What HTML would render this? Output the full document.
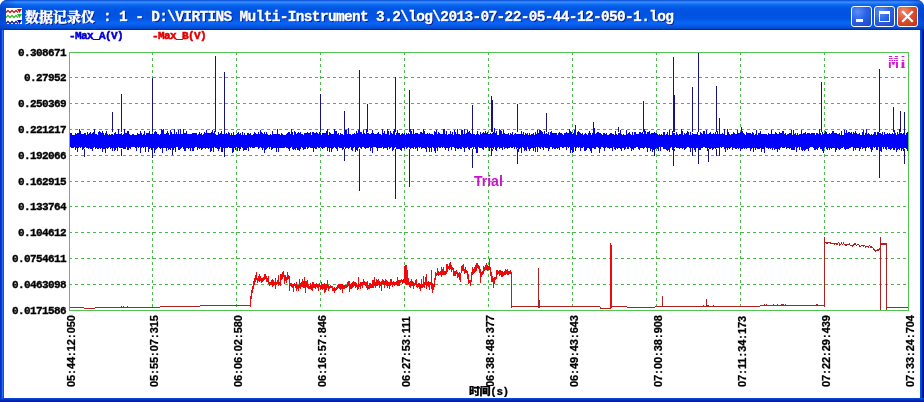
<!DOCTYPE html>
<html lang="zh"><head><meta charset="utf-8"><title>数据记录仪</title>
<style>
html,body{margin:0;padding:0;background:#fff;}
body{width:924px;height:402px;overflow:hidden;position:relative;font-family:"Liberation Mono","Noto Serif CJK SC",monospace;}
#win{position:absolute;left:0;top:0;width:924px;height:402px;box-sizing:border-box;border-radius:7px 7px 0 0;overflow:hidden;background:#0a50e0;}
#tb{position:absolute;left:0;top:0;width:924px;height:30px;
background:linear-gradient(to bottom,#0a48cc 0px,#1c6cec 1px,#3a8eff 2px,#2a82fa 3px,#1070f4 4px,#0560ea 6px,#0055e2 9px,#0053e0 15px,#0056e6 19px,#0962f4 22px,#0a64f6 24px,#0458e4 26px,#0450d4 28px,#0038b0 29px,#002c9c 30px);}
#tb:before{content:"";position:absolute;left:0;top:0;width:16px;height:30px;background:linear-gradient(to right,#0038c0 0%,rgba(0,56,192,0) 100%);opacity:.6}
#tb:after{content:"";position:absolute;right:0;top:0;width:16px;height:30px;background:linear-gradient(to left,#0038c0 0%,rgba(0,56,192,0) 100%);opacity:.6}
#bl{position:absolute;left:0;top:30px;width:4px;height:372px;background:linear-gradient(to right,#0030c8 0,#0030c8 1px,#0a40d8 1px,#0a40d8 2px,#2a6cf0 2px,#2a6cf0 3px,#0a54e0 3px,#0a54e0 4px);}
#br{position:absolute;right:0;top:30px;width:4px;height:372px;background:linear-gradient(to left,#00138c 0,#00138c 1px,#001ea0 1px,#001ea0 2px,#003bda 2px,#0855dd 4px);}
#bb{position:absolute;left:0;bottom:0;width:924px;height:4px;background:linear-gradient(to top,#001c98 0,#001c98 1px,#0028b0 1px,#0028b0 2px,#0034c0 2px,#0034c0 3px,#0a48d8 3px,#0a48d8 4px);}
#client{position:absolute;left:4px;top:30px;width:916px;height:368px;background:#fff;}
#title{position:absolute;left:26px;top:6px;height:18px;line-height:18px;color:#fff;font-weight:bold;font-size:14.5px;letter-spacing:-0.67px;white-space:pre;text-shadow:1px 1px 0 #0a1883;-webkit-text-stroke:0.3px #fff;}
#title .c{font-size:14px;letter-spacing:0;margin-left:-1px;position:relative;top:0.5px;font-family:"Noto Serif CJK SC",serif;font-weight:900}
.btn{position:absolute;top:6px;width:21px;height:21px;box-sizing:border-box;border:1px solid #fff;border-radius:3px;
background:radial-gradient(circle at 30% 25%,#5a8ef8 0%,#2a62e6 45%,#1c45c8 100%);}
.btn.close{background:radial-gradient(circle at 30% 25%,#f09070 0%,#dd5030 45%,#b83010 100%);}
.yl{position:absolute;left:0;width:66px;text-align:right;height:14px;line-height:14px;font-size:11px;letter-spacing:-0.6px;font-weight:bold;color:#000;white-space:pre;-webkit-text-stroke:0.35px #000;}
.xl{position:absolute;top:386.5px;height:12px;line-height:12px;width:80px;margin-left:-5px;font-family:"Liberation Sans",sans-serif;font-weight:bold;font-size:11px;letter-spacing:-0.116px;color:#000;white-space:pre;transform-origin:0 0;transform:rotate(-90deg);}
.xl{-webkit-text-stroke:0.25px #000}
.xl i{font-style:normal;padding:0 1.17px 0 1.17px;}
.lg{position:absolute;top:29px;height:14px;line-height:14px;font-size:11px;letter-spacing:-0.6px;font-weight:bold;white-space:pre;-webkit-text-stroke:0.5px currentColor;}
</style></head><body>
<div id="win">
<div id="tb"></div>
<div id="bl"></div><div id="br"></div><div id="bb"></div>
<div id="client"></div>
<svg width="16" height="16" viewBox="0 0 16 16" style="position:absolute;left:6px;top:8px">
<rect width="16" height="16" fill="#fff"/>
<path d="M0 4.6 L2 2.4 L4 4.6 L6 2.4 L8 4.6 L10 2.4 L12 4.6" stroke="#b81414" fill="none" stroke-width="1.35"/>
<path d="M11 1H16L13.5 5z" fill="#c81010"/>
<path d="M0 9.6 L2 7.4 L4 9.6 L6 7.4 L8 9.6 L10 7.4 L12 9.6" stroke="#28b828" fill="none" stroke-width="1.35"/>
<path d="M11 6H16L13.5 10z" fill="#18c018"/>
<path d="M0 15.6 L2 13.4 L4 15.6 L6 13.4 L8 15.6 L10 13.4 L12 15.6" stroke="#101088" fill="none" stroke-width="1.35"/>
<path d="M11 12H16L13.5 16z" fill="#0808a0"/>
</svg>
<div id="title"><span class="c">数据记录仪</span> : 1 - D:\VIRTINS Multi-Instrument 3.2\log\2013-07-22-05-44-12-050-1.log</div>
<div class="btn" style="left:851px"><div style="position:absolute;left:4px;top:12px;width:7px;height:3px;background:#fff"></div></div>
<div class="btn" style="left:874px"><div style="position:absolute;left:4px;top:4px;width:11px;height:11px;box-sizing:border-box;border:1px solid #fff;border-top-width:3px"></div></div>
<div class="btn close" style="left:897px"><svg width="19" height="19" viewBox="0 0 19 19" style="position:absolute;left:0;top:0"><path d="M5 5l9 9M14 5l-9 9" stroke="#fff" stroke-width="2.2" stroke-linecap="square"/></svg></div>
</div>
<svg width="924" height="402" viewBox="0 0 924 402" shape-rendering="crispEdges" style="position:absolute;left:0;top:0">
<path d="M152.5 52V310M236.5 52V310M320.5 52V310M404.5 52V310M488.5 52V310M572.5 52V310M656.5 52V310M740.5 52V310M824.5 52V310" stroke="#4cb84c" stroke-width="1" stroke-dasharray="3 3" fill="none"/>
<path d="M69 77.5H908M69 103.5H908M69 129.5H908M69 155.5H908M69 181.5H908M69 206.5H908M69 232.5H908M69 258.5H908M69 284.5H908" stroke="#4cb84c" stroke-width="1" stroke-dasharray="3 3" fill="none"/>
<path d="M69.5 134V147M70.5 133V147M71.5 133V148M72.5 135V148M73.5 135V148M74.5 135V147M75.5 133V150M76.5 134V148M77.5 133V152M78.5 133V148M79.5 129V147M80.5 131V148M81.5 134V147M82.5 134V150M83.5 134V149M84.5 133V148M85.5 133V147M86.5 135V148M87.5 132V148M88.5 134V149M89.5 133V148M90.5 132V149M91.5 134V149M92.5 133V151M93.5 132V148M94.5 129V147M95.5 134V149M96.5 134V148M97.5 135V149M98.5 132V149M99.5 131V148M100.5 132V149M101.5 133V148M102.5 131V152M103.5 133V149M104.5 135V149M105.5 133V153M106.5 131V148M107.5 134V149M108.5 135V148M109.5 134V147M110.5 135V149M111.5 134V148M112.5 134V151M113.5 135V148M114.5 133V151M115.5 132V150M116.5 134V148M117.5 134V151M118.5 129V147M119.5 134V148M120.5 134V148M121.5 133V148M122.5 135V148M123.5 134V149M124.5 129V149M125.5 133V149M126.5 133V147M127.5 131V150M128.5 131V150M129.5 134V148M130.5 135V149M131.5 135V147M132.5 134V147M133.5 134V147M134.5 135V147M135.5 135V148M136.5 135V151M137.5 133V147M138.5 134V148M139.5 134V147M140.5 131V153M141.5 133V148M142.5 135V147M143.5 134V148M144.5 131V147M145.5 135V152M146.5 133V147M147.5 133V147M148.5 133V152M149.5 131V149M150.5 134V148M151.5 134V150M152.5 133V150M153.5 134V148M154.5 132V153M155.5 131V150M156.5 132V149M157.5 134V148M158.5 134V147M159.5 135V148M160.5 134V149M161.5 129V148M162.5 130V153M163.5 129V148M164.5 134V148M165.5 134V148M166.5 133V151M167.5 131V148M168.5 133V150M169.5 135V149M170.5 130V150M171.5 132V148M172.5 134V150M173.5 134V150M174.5 129V148M175.5 134V152M176.5 132V147M177.5 134V147M178.5 130V150M179.5 134V150M180.5 129V149M181.5 134V148M182.5 134V147M183.5 129V149M184.5 133V151M185.5 133V151M186.5 131V148M187.5 134V148M188.5 134V149M189.5 134V148M190.5 134V151M191.5 134V148M192.5 133V151M193.5 133V151M194.5 133V148M195.5 133V147M196.5 133V147M197.5 135V150M198.5 134V148M199.5 132V149M200.5 134V148M201.5 133V150M202.5 135V149M203.5 134V148M204.5 132V148M205.5 133V149M206.5 130V148M207.5 133V148M208.5 133V149M209.5 133V148M210.5 133V152M211.5 132V151M212.5 130V148M213.5 133V152M214.5 131V147M215.5 134V148M216.5 135V148M217.5 135V149M218.5 132V151M219.5 134V149M220.5 133V147M221.5 131V152M222.5 134V152M223.5 134V148M224.5 128V150M225.5 134V148M226.5 133V148M227.5 134V148M228.5 132V147M229.5 133V148M230.5 135V148M231.5 133V148M232.5 135V153M233.5 132V152M234.5 135V148M235.5 135V150M236.5 134V147M237.5 133V151M238.5 132V148M239.5 134V151M240.5 133V149M241.5 135V147M242.5 132V148M243.5 135V151M244.5 133V150M245.5 135V150M246.5 135V150M247.5 133V148M248.5 133V151M249.5 134V147M250.5 133V148M251.5 135V147M252.5 135V148M253.5 134V148M254.5 132V148M255.5 133V147M256.5 134V147M257.5 134V147M258.5 132V149M259.5 134V148M260.5 130V147M261.5 132V148M262.5 133V150M263.5 134V148M264.5 132V153M265.5 134V150M266.5 132V149M267.5 134V148M268.5 135V147M269.5 135V149M270.5 134V147M271.5 135V150M272.5 131V149M273.5 134V148M274.5 134V148M275.5 134V148M276.5 134V152M277.5 129V148M278.5 134V152M279.5 134V148M280.5 135V148M281.5 133V148M282.5 134V148M283.5 135V148M284.5 135V148M285.5 135V147M286.5 134V148M287.5 133V148M288.5 132V149M289.5 132V151M290.5 134V148M291.5 129V147M292.5 132V149M293.5 135V150M294.5 131V149M295.5 132V150M296.5 134V148M297.5 133V150M298.5 132V150M299.5 133V151M300.5 132V149M301.5 134V147M302.5 134V148M303.5 135V150M304.5 133V149M305.5 133V149M306.5 133V147M307.5 132V149M308.5 133V148M309.5 133V147M310.5 132V148M311.5 135V148M312.5 132V148M313.5 132V152M314.5 133V148M315.5 133V149M316.5 132V149M317.5 133V147M318.5 134V148M319.5 132V148M320.5 133V147M321.5 135V148M322.5 133V149M323.5 133V148M324.5 133V148M325.5 133V147M326.5 131V147M327.5 129V151M328.5 135V148M329.5 132V152M330.5 133V148M331.5 134V152M332.5 134V149M333.5 134V148M334.5 129V147M335.5 131V148M336.5 131V149M337.5 134V151M338.5 133V147M339.5 135V148M340.5 133V148M341.5 134V148M342.5 134V150M343.5 135V149M344.5 131V147M345.5 130V149M346.5 130V148M347.5 134V148M348.5 128V149M349.5 134V148M350.5 134V147M351.5 135V150M352.5 134V151M353.5 134V148M354.5 133V147M355.5 134V152M356.5 131V150M357.5 133V151M358.5 130V148M359.5 132V147M360.5 132V148M361.5 132V149M362.5 134V147M363.5 130V147M364.5 133V148M365.5 134V149M366.5 129V148M367.5 133V148M368.5 133V148M369.5 134V147M370.5 134V151M371.5 133V148M372.5 130V153M373.5 133V147M374.5 134V147M375.5 134V147M376.5 134V148M377.5 133V151M378.5 132V148M379.5 134V148M380.5 134V148M381.5 135V148M382.5 129V147M383.5 133V149M384.5 131V148M385.5 134V148M386.5 134V148M387.5 129V150M388.5 131V147M389.5 135V149M390.5 131V148M391.5 133V147M392.5 134V151M393.5 131V150M394.5 129V148M395.5 135V147M396.5 133V149M397.5 130V149M398.5 133V149M399.5 133V149M400.5 135V150M401.5 134V151M402.5 133V148M403.5 134V148M404.5 133V149M405.5 135V147M406.5 133V149M407.5 134V148M408.5 133V147M409.5 134V148M410.5 129V149M411.5 131V148M412.5 134V148M413.5 129V149M414.5 134V147M415.5 133V149M416.5 133V148M417.5 133V151M418.5 134V147M419.5 134V148M420.5 132V147M421.5 132V149M422.5 133V148M423.5 129V148M424.5 131V148M425.5 134V149M426.5 134V152M427.5 133V147M428.5 134V148M429.5 133V152M430.5 134V148M431.5 134V152M432.5 134V147M433.5 135V148M434.5 131V151M435.5 132V153M436.5 130V148M437.5 134V151M438.5 132V147M439.5 133V148M440.5 134V148M441.5 134V147M442.5 134V148M443.5 129V147M444.5 129V148M445.5 134V150M446.5 131V148M447.5 135V148M448.5 134V151M449.5 134V148M450.5 131V147M451.5 134V150M452.5 132V147M453.5 135V147M454.5 130V148M455.5 132V151M456.5 134V148M457.5 129V149M458.5 134V149M459.5 134V148M460.5 135V149M461.5 130V149M462.5 130V147M463.5 134V148M464.5 129V152M465.5 134V148M466.5 133V148M467.5 130V147M468.5 132V149M469.5 131V150M470.5 133V148M471.5 134V148M472.5 132V147M473.5 134V149M474.5 134V147M475.5 135V149M476.5 134V153M477.5 131V153M478.5 134V147M479.5 135V148M480.5 132V148M481.5 134V148M482.5 133V149M483.5 132V150M484.5 133V147M485.5 131V148M486.5 133V148M487.5 132V147M488.5 134V148M489.5 134V151M490.5 133V148M491.5 134V153M492.5 133V148M493.5 132V149M494.5 128V147M495.5 133V150M496.5 131V151M497.5 135V148M498.5 135V147M499.5 129V149M500.5 130V148M501.5 131V148M502.5 134V150M503.5 130V147M504.5 133V149M505.5 134V148M506.5 134V148M507.5 134V149M508.5 133V148M509.5 135V148M510.5 133V147M511.5 134V148M512.5 132V148M513.5 135V147M514.5 134V149M515.5 133V147M516.5 134V149M517.5 134V148M518.5 134V152M519.5 134V149M520.5 134V148M521.5 131V153M522.5 134V147M523.5 132V148M524.5 135V151M525.5 133V150M526.5 134V151M527.5 133V147M528.5 135V149M529.5 133V151M530.5 135V149M531.5 134V148M532.5 134V148M533.5 133V151M534.5 135V148M535.5 132V152M536.5 134V147M537.5 130V152M538.5 133V147M539.5 130V148M540.5 130V149M541.5 131V147M542.5 132V148M543.5 134V150M544.5 131V147M545.5 134V148M546.5 133V148M547.5 134V148M548.5 132V151M549.5 135V149M550.5 132V147M551.5 131V147M552.5 133V149M553.5 133V148M554.5 133V149M555.5 133V149M556.5 133V148M557.5 135V149M558.5 133V148M559.5 132V150M560.5 133V147M561.5 133V147M562.5 134V148M563.5 135V148M564.5 133V147M565.5 133V147M566.5 132V150M567.5 133V147M568.5 133V148M569.5 129V147M570.5 131V153M571.5 132V150M572.5 134V153M573.5 133V152M574.5 130V147M575.5 132V151M576.5 135V148M577.5 132V147M578.5 131V148M579.5 132V147M580.5 133V151M581.5 134V148M582.5 133V148M583.5 135V147M584.5 134V151M585.5 133V151M586.5 134V150M587.5 135V148M588.5 133V148M589.5 131V149M590.5 133V151M591.5 135V153M592.5 133V148M593.5 132V148M594.5 128V149M595.5 134V149M596.5 133V147M597.5 132V147M598.5 132V148M599.5 133V153M600.5 133V149M601.5 134V147M602.5 135V147M603.5 133V148M604.5 133V151M605.5 134V148M606.5 133V147M607.5 135V148M608.5 135V148M609.5 134V149M610.5 133V148M611.5 133V148M612.5 134V151M613.5 134V147M614.5 135V149M615.5 131V150M616.5 134V148M617.5 135V149M618.5 133V148M619.5 133V148M620.5 130V149M621.5 134V151M622.5 135V148M623.5 134V148M624.5 135V150M625.5 135V149M626.5 130V147M627.5 134V149M628.5 133V149M629.5 132V147M630.5 134V148M631.5 135V151M632.5 132V149M633.5 135V150M634.5 132V148M635.5 132V148M636.5 134V147M637.5 134V147M638.5 134V149M639.5 132V150M640.5 132V148M641.5 133V148M642.5 132V148M643.5 134V149M644.5 129V148M645.5 131V147M646.5 134V148M647.5 132V152M648.5 132V148M649.5 131V148M650.5 134V151M651.5 133V149M652.5 133V152M653.5 133V150M654.5 132V150M655.5 133V149M656.5 133V148M657.5 134V149M658.5 135V151M659.5 134V147M660.5 135V151M661.5 134V147M662.5 135V147M663.5 132V149M664.5 132V149M665.5 135V149M666.5 134V150M667.5 132V151M668.5 135V150M669.5 130V152M670.5 135V148M671.5 135V147M672.5 131V150M673.5 133V150M674.5 133V148M675.5 135V147M676.5 132V148M677.5 134V148M678.5 135V148M679.5 134V149M680.5 134V148M681.5 129V148M682.5 131V149M683.5 135V148M684.5 133V150M685.5 134V149M686.5 133V148M687.5 131V147M688.5 132V147M689.5 135V148M690.5 132V152M691.5 135V148M692.5 133V150M693.5 134V148M694.5 134V150M695.5 134V152M696.5 134V148M697.5 132V148M698.5 135V149M699.5 135V150M700.5 132V150M701.5 133V148M702.5 134V148M703.5 131V147M704.5 131V147M705.5 134V148M706.5 130V148M707.5 134V151M708.5 134V148M709.5 133V149M710.5 132V149M711.5 134V148M712.5 134V150M713.5 133V149M714.5 134V148M715.5 132V149M716.5 134V148M717.5 131V148M718.5 134V148M719.5 132V150M720.5 134V147M721.5 134V148M722.5 133V147M723.5 134V147M724.5 129V149M725.5 135V152M726.5 135V148M727.5 129V150M728.5 132V148M729.5 134V149M730.5 135V148M731.5 134V147M732.5 134V150M733.5 132V148M734.5 133V148M735.5 134V149M736.5 134V149M737.5 130V148M738.5 133V149M739.5 133V148M740.5 132V151M741.5 132V149M742.5 131V149M743.5 133V148M744.5 134V149M745.5 135V148M746.5 132V149M747.5 133V148M748.5 133V148M749.5 133V148M750.5 133V151M751.5 134V149M752.5 132V148M753.5 133V152M754.5 135V148M755.5 134V150M756.5 130V148M757.5 135V149M758.5 133V149M759.5 133V149M760.5 131V148M761.5 134V152M762.5 134V149M763.5 134V149M764.5 134V153M765.5 134V147M766.5 134V148M767.5 135V148M768.5 133V149M769.5 134V148M770.5 134V149M771.5 130V148M772.5 134V150M773.5 134V148M774.5 134V150M775.5 132V149M776.5 133V149M777.5 134V152M778.5 134V149M779.5 132V150M780.5 133V148M781.5 133V147M782.5 131V148M783.5 131V148M784.5 134V148M785.5 133V147M786.5 135V149M787.5 134V148M788.5 134V148M789.5 133V149M790.5 133V148M791.5 130V150M792.5 135V150M793.5 130V150M794.5 134V150M795.5 133V147M796.5 135V152M797.5 133V148M798.5 135V147M799.5 134V150M800.5 134V147M801.5 130V150M802.5 134V151M803.5 133V150M804.5 133V151M805.5 132V150M806.5 134V149M807.5 133V149M808.5 133V151M809.5 133V148M810.5 134V147M811.5 133V147M812.5 133V147M813.5 133V148M814.5 133V150M815.5 135V150M816.5 133V149M817.5 133V150M818.5 134V148M819.5 129V147M820.5 133V149M821.5 135V149M822.5 132V151M823.5 134V153M824.5 133V148M825.5 131V147M826.5 132V149M827.5 134V150M828.5 134V148M829.5 133V150M830.5 134V148M831.5 133V149M832.5 131V148M833.5 131V148M834.5 133V148M835.5 133V152M836.5 133V150M837.5 134V148M838.5 134V149M839.5 133V150M840.5 135V149M841.5 131V148M842.5 135V148M843.5 135V147M844.5 130V149M845.5 133V150M846.5 130V149M847.5 133V149M848.5 132V149M849.5 132V148M850.5 133V148M851.5 132V147M852.5 134V147M853.5 132V151M854.5 133V148M855.5 131V150M856.5 133V148M857.5 134V148M858.5 134V148M859.5 133V151M860.5 135V149M861.5 135V147M862.5 132V149M863.5 130V148M864.5 135V148M865.5 133V151M866.5 129V148M867.5 134V147M868.5 133V148M869.5 134V147M870.5 135V149M871.5 134V152M872.5 135V150M873.5 134V147M874.5 132V148M875.5 132V147M876.5 135V150M877.5 132V150M878.5 132V147M879.5 133V149M880.5 133V151M881.5 134V152M882.5 132V147M883.5 135V149M884.5 132V147M885.5 134V149M886.5 134V150M887.5 133V147M888.5 134V149M889.5 133V149M890.5 134V150M891.5 134V149M892.5 133V148M893.5 134V150M894.5 130V150M895.5 133V148M896.5 135V152M897.5 132V150M898.5 134V149M899.5 129V150M900.5 133V148M901.5 133V151M902.5 134V149M903.5 133V151M904.5 132V148M905.5 135V148M906.5 133V149M907.5 132V151" stroke="#0000ff" stroke-width="1" fill="none"/>
<path d="M84.5 149V157M112.5 112V132M121.5 94V132M121.5 149V156M152.5 78V132M152.5 149V158M172.5 149V155M215.5 56V132M224.5 72V132M224.5 149V157M320.5 94V132M344.5 111V132M344.5 149V161M359.5 70V132M359.5 149V191M367.5 104V132M395.5 77V132M395.5 149V199M409.5 90V132M409.5 149V187M472.5 105V132M472.5 149V168M491.5 96V132M491.5 149V156M492.5 100V132M492.5 149V151M517.5 104V132M517.5 149V164M546.5 113V132M575.5 125V132M593.5 122V132M618.5 127V132M643.5 101V132M654.5 149V156M673.5 57V132M673.5 149V166M674.5 95V132M674.5 149V151M692.5 87V132M692.5 149V156M698.5 53V132M698.5 149V164M708.5 149V162M716.5 86V132M716.5 149V156M719.5 118V132M719.5 149V156M741.5 127V132M821.5 82V132M879.5 69V132M879.5 149V178M893.5 107V132M900.5 111V132M904.5 112V132M904.5 149V164" stroke="#14147c" stroke-width="1" fill="none"/>
<path d="M69.5 307V308M70.5 307V308M71.5 307V308M72.5 307V308M73.5 307V308M74.5 307V308M75.5 307V308M76.5 307V308M77.5 307V308M78.5 307V308M79.5 307V308M80.5 307V308M81.5 307V308M82.5 307V308M83.5 307V308M84.5 308V309M85.5 308V309M86.5 308V309M87.5 308V309M88.5 308V309M89.5 308V309M90.5 308V309M91.5 308V309M92.5 308V309M93.5 308V309M94.5 308V309M95.5 307V308M96.5 307V308M97.5 307V308M98.5 307V308M99.5 307V308M100.5 307V308M101.5 307V308M102.5 307V308M103.5 307V308M104.5 307V308M105.5 307V308M106.5 307V308M107.5 307V308M108.5 307V308M109.5 307V308M110.5 307V308M111.5 307V308M112.5 307V308M113.5 307V308M114.5 307V308M115.5 307V308M116.5 307V308M117.5 307V308M118.5 307V308M119.5 307V308M120.5 307V308M121.5 306V308M122.5 307V308M123.5 306V308M124.5 307V308M125.5 307V308M126.5 307V308M127.5 306V308M128.5 307V308M129.5 307V308M130.5 307V308M131.5 307V308M132.5 307V308M133.5 307V308M134.5 307V308M135.5 307V308M136.5 307V308M137.5 307V308M138.5 307V308M139.5 307V308M140.5 307V308M141.5 307V308M142.5 307V308M143.5 307V308M144.5 307V308M145.5 307V308M146.5 307V308M147.5 307V308M148.5 307V308M149.5 307V308M150.5 307V308M151.5 307V308M152.5 307V308M153.5 307V308M154.5 307V308M155.5 307V308M156.5 307V308M157.5 307V308M158.5 307V308M159.5 307V308M160.5 306V307M161.5 306V307M162.5 306V307M163.5 306V307M164.5 306V307M165.5 306V307M166.5 306V307M167.5 306V307M168.5 306V307M169.5 306V307M170.5 306V307M171.5 306V307M172.5 306V307M173.5 306V307M174.5 306V307M175.5 306V307M176.5 306V307M177.5 306V307M178.5 306V307M179.5 306V307M180.5 306V307M181.5 306V307M182.5 306V307M183.5 306V307M184.5 306V307M185.5 306V307M186.5 306V307M187.5 306V307M188.5 306V307M189.5 306V307M190.5 306V307M191.5 306V307M192.5 306V307M193.5 306V307M194.5 306V307M195.5 306V307M196.5 306V307M197.5 306V307M198.5 306V307M199.5 306V307M200.5 305V306M201.5 305V306M202.5 305V306M203.5 305V306M204.5 305V306M205.5 305V306M206.5 305V306M207.5 305V306M208.5 305V306M209.5 305V306M210.5 305V306M211.5 305V306M212.5 305V306M213.5 305V306M214.5 305V306M215.5 305V306M216.5 305V306M217.5 305V306M218.5 305V306M219.5 305V306M220.5 305V306M221.5 305V306M222.5 305V306M223.5 305V306M224.5 305V306M225.5 305V306M226.5 305V306M227.5 305V306M228.5 305V306M229.5 305V306M230.5 305V306M231.5 305V306M232.5 305V306M233.5 305V306M234.5 305V306M235.5 305V306M236.5 305V306M237.5 305V306M238.5 305V306M239.5 305V306M240.5 305V306M241.5 305V306M242.5 305V306M243.5 305V306M244.5 305V306M245.5 305V306M246.5 305V306M247.5 305V306M248.5 305V306M249.5 305V306M512.5 306V307M513.5 306V307M514.5 306V307M515.5 306V307M516.5 306V307M517.5 306V307M518.5 306V307M519.5 306V307M520.5 306V307M521.5 306V307M522.5 306V307M523.5 306V307M524.5 306V307M525.5 306V307M526.5 306V307M527.5 306V307M528.5 306V307M529.5 306V307M530.5 306V307M531.5 306V307M532.5 306V307M533.5 306V307M534.5 306V307M535.5 306V307M536.5 306V307M537.5 306V307M538.5 268V308M539.5 300V308M540.5 306V307M541.5 306V307M542.5 306V307M543.5 306V307M544.5 306V307M545.5 306V307M546.5 306V307M547.5 306V307M548.5 306V307M549.5 306V307M550.5 306V307M551.5 306V307M552.5 306V307M553.5 306V307M554.5 306V307M555.5 306V307M556.5 306V307M557.5 306V307M558.5 306V307M559.5 306V307M560.5 306V307M561.5 306V307M562.5 306V307M563.5 306V307M564.5 306V307M565.5 306V307M566.5 306V307M567.5 306V307M568.5 306V307M569.5 306V307M570.5 306V307M571.5 306V307M572.5 306V307M573.5 306V307M574.5 306V307M575.5 306V307M576.5 306V307M577.5 306V307M578.5 306V307M579.5 306V307M580.5 306V307M581.5 306V307M582.5 306V307M583.5 306V307M584.5 306V307M585.5 306V307M586.5 306V307M587.5 306V307M588.5 306V307M589.5 306V307M590.5 306V307M591.5 306V307M592.5 306V307M593.5 306V307M594.5 306V307M595.5 306V307M596.5 306V307M597.5 306V307M598.5 306V307M599.5 306V307M600.5 307V309M601.5 308V309M602.5 308V309M603.5 308V309M604.5 308V309M605.5 308V309M606.5 308V309M607.5 308V309M608.5 308V309M609.5 308V309M612.5 306V307M613.5 306V307M614.5 306V307M615.5 306V307M616.5 306V307M617.5 306V307M618.5 306V307M619.5 306V307M620.5 306V307M621.5 306V307M622.5 306V307M623.5 306V307M624.5 306V307M625.5 306V307M626.5 306V307M627.5 307V308M628.5 307V308M629.5 307V308M630.5 307V308M631.5 307V308M632.5 307V308M633.5 307V308M634.5 307V308M635.5 307V308M636.5 307V308M637.5 307V308M638.5 307V308M639.5 307V308M640.5 307V308M641.5 307V308M642.5 307V308M643.5 307V308M644.5 307V308M645.5 307V308M646.5 307V308M647.5 307V308M648.5 307V308M649.5 307V308M650.5 307V308M651.5 307V308M652.5 307V308M653.5 307V308M654.5 307V308M655.5 306V307M656.5 306V307M657.5 306V307M658.5 306V307M659.5 306V307M660.5 306V307M661.5 306V307M662.5 296V307M663.5 306V307M664.5 306V307M665.5 306V307M666.5 306V307M667.5 306V307M668.5 306V307M669.5 306V307M670.5 306V307M671.5 306V307M672.5 306V307M673.5 306V307M674.5 306V307M675.5 306V307M676.5 306V307M677.5 306V307M678.5 306V307M679.5 306V307M680.5 306V307M681.5 306V307M682.5 306V307M683.5 306V307M684.5 306V307M685.5 306V307M686.5 306V307M687.5 306V307M688.5 306V307M689.5 306V307M690.5 306V307M691.5 306V307M692.5 306V307M693.5 306V307M694.5 306V307M695.5 306V307M696.5 306V307M697.5 306V307M698.5 306V307M699.5 306V307M700.5 306V307M701.5 306V307M702.5 306V307M703.5 305V307M704.5 306V307M705.5 306V307M706.5 299V307M707.5 305V307M708.5 305V307M709.5 306V307M710.5 306V307M711.5 306V307M712.5 306V307M713.5 305V307M714.5 306V307M715.5 306V307M716.5 306V307M717.5 306V307M718.5 306V307M719.5 306V307M720.5 306V307M721.5 306V307M722.5 306V307M723.5 306V307M724.5 306V307M725.5 306V307M726.5 306V307M727.5 306V307M728.5 306V307M729.5 306V307M730.5 306V307M731.5 306V307M732.5 306V307M733.5 306V307M734.5 306V307M735.5 306V307M736.5 306V307M737.5 306V307M738.5 306V307M739.5 306V307M740.5 306V307M741.5 306V307M742.5 306V307M743.5 306V307M744.5 306V307M745.5 306V307M746.5 306V307M747.5 306V307M748.5 306V307M749.5 306V307M750.5 306V307M751.5 306V307M752.5 306V307M753.5 306V307M754.5 306V307M755.5 306V307M756.5 306V307M757.5 306V307M758.5 306V307M759.5 306V307M760.5 305V306M761.5 305V306M762.5 305V306M763.5 305V306M764.5 304V306M765.5 305V306M766.5 304V306M767.5 305V306M768.5 305V306M769.5 305V306M770.5 305V306M771.5 305V306M772.5 305V306M773.5 304V306M774.5 305V306M775.5 305V306M776.5 305V306M777.5 304V306M778.5 305V306M779.5 305V306M780.5 305V306M781.5 304V306M782.5 304V306M783.5 304V306M784.5 305V306M785.5 304V306M786.5 305V306M787.5 305V306M788.5 305V306M789.5 305V306M790.5 305V306M791.5 305V306M792.5 305V306M793.5 305V306M794.5 305V306M795.5 305V306M796.5 305V306M797.5 305V306M798.5 305V306M799.5 305V306M800.5 305V306M801.5 305V306M802.5 305V306M803.5 305V306M804.5 305V306M805.5 305V306M806.5 305V306M807.5 305V306M808.5 305V306M809.5 305V306M810.5 305V306M811.5 305V306M812.5 305V306M813.5 305V306M814.5 305V306M815.5 305V306M816.5 304V306M817.5 304V306M818.5 305V306M819.5 305V306M820.5 305V306M821.5 305V306M822.5 305V306M823.5 305V306M824.5 237V307M825.5 242V243M826.5 242V244M827.5 242V244M828.5 242V243M829.5 242V243M830.5 242V244M831.5 243V244M832.5 243V244M833.5 243V244M834.5 243V245M835.5 243V244M836.5 243V245M837.5 243V245M838.5 242V243M839.5 243V246M840.5 244V245M841.5 242V244M842.5 244V245M843.5 242V244M844.5 244V245M845.5 244V246M846.5 244V246M847.5 244V245M848.5 244V245M849.5 243V245M850.5 245V246M851.5 245V246M852.5 245V247M853.5 244V246M854.5 243V245M855.5 243V245M856.5 245V246M857.5 244V245M858.5 244V245M859.5 245V247M860.5 246V247M861.5 245V246M862.5 245V246M863.5 245V247M864.5 245V246M865.5 246V248M866.5 246V247M867.5 246V247M868.5 246V248M869.5 245V246M870.5 246V248M871.5 246V248M872.5 247V248M873.5 248V250M874.5 249V251M875.5 250V252M876.5 250V251M877.5 249V251M878.5 249V251M879.5 248V250M880.5 237V310M881.5 243V245M882.5 243V245M883.5 243V245M884.5 243V245M885.5 243V245M886.5 243V310M887.5 307V308M888.5 307V308M889.5 307V308M890.5 307V308M891.5 307V308M892.5 307V308M893.5 307V308M894.5 307V308M895.5 307V308M896.5 307V308M897.5 307V308M898.5 307V308M899.5 307V308M900.5 307V308M901.5 307V308M902.5 307V308M903.5 307V308M904.5 307V308M905.5 307V308M906.5 307V308M907.5 307V308M908.5 307V308" stroke="#b02222" stroke-width="1" fill="none"/>
<path d="M250.5 296V307M251.5 290V299M252.5 286V293M253.5 281V289M254.5 278V285M255.5 275V282M256.5 272V280M257.5 278V283M258.5 276V281M259.5 274V282M260.5 276V281M261.5 278V283M262.5 278V282M263.5 277V281M264.5 274V280M265.5 274V279M266.5 276V282M267.5 278V282M268.5 276V284M269.5 282V286M270.5 282V285M271.5 280V285M272.5 279V287M273.5 280V286M274.5 282V285M275.5 278V289M276.5 282V285M277.5 280V284M278.5 275V286M279.5 282V285M280.5 274V286M281.5 274V280M282.5 272V279M283.5 271V277M284.5 275V284M285.5 275V281M286.5 277V283M287.5 272V280M288.5 275V279M289.5 276V291M290.5 283V286M291.5 283V287M292.5 284V288M293.5 284V292M294.5 283V286M295.5 284V288M296.5 282V291M297.5 285V289M298.5 285V291M299.5 279V288M300.5 283V289M301.5 282V287M302.5 279V287M303.5 281V288M304.5 277V288M305.5 281V293M306.5 281V287M307.5 280V288M308.5 284V289M309.5 286V289M310.5 283V289M311.5 285V290M312.5 282V291M313.5 282V288M314.5 284V288M315.5 284V289M316.5 283V287M317.5 284V288M318.5 284V291M319.5 283V287M320.5 285V290M321.5 282V289M322.5 284V290M323.5 284V289M324.5 283V293M325.5 284V292M326.5 284V290M327.5 280V288M328.5 285V291M329.5 286V289M330.5 285V288M331.5 286V288M332.5 286V291M333.5 288V291M334.5 287V293M335.5 288V291M336.5 287V290M337.5 285V289M338.5 284V288M339.5 284V289M340.5 284V290M341.5 284V289M342.5 284V293M343.5 285V289M344.5 285V289M345.5 285V288M346.5 285V288M347.5 282V287M348.5 281V286M349.5 281V292M350.5 284V289M351.5 283V289M352.5 282V288M353.5 281V287M354.5 282V286M355.5 282V288M356.5 283V287M357.5 285V290M358.5 277V289M359.5 284V287M360.5 282V289M361.5 282V286M362.5 282V288M363.5 279V285M364.5 281V285M365.5 282V286M366.5 282V288M367.5 281V290M368.5 285V289M369.5 283V289M370.5 283V288M371.5 284V288M372.5 280V288M373.5 280V288M374.5 277V286M375.5 282V288M376.5 279V286M377.5 280V286M378.5 279V285M379.5 281V288M380.5 282V286M381.5 281V291M382.5 279V284M383.5 280V285M384.5 281V288M385.5 279V285M386.5 280V286M387.5 281V288M388.5 282V286M389.5 282V289M390.5 279V286M391.5 279V285M392.5 282V287M393.5 281V285M394.5 282V286M395.5 282V285M396.5 281V285M397.5 277V286M398.5 280V286M399.5 280V286M400.5 280V283M401.5 279V282M402.5 280V284M403.5 279V283M404.5 266V283M405.5 265V284M406.5 265V285M407.5 270V285M408.5 278V285M409.5 282V287M410.5 281V288M411.5 279V286M412.5 281V286M413.5 282V289M414.5 283V286M415.5 280V285M416.5 279V287M417.5 284V288M418.5 283V287M419.5 283V289M420.5 284V291M421.5 279V288M422.5 284V288M423.5 276V287M424.5 282V288M425.5 277V285M426.5 274V289M427.5 282V286M428.5 281V287M429.5 282V290M430.5 282V285M431.5 270V289M432.5 283V293M433.5 284V290M434.5 278V287M435.5 272V280M436.5 273V276M437.5 268V275M438.5 271V276M439.5 272V275M440.5 271V275M441.5 267V277M442.5 269V275M443.5 267V275M444.5 271V275M445.5 271V275M446.5 264V274M447.5 264V272M448.5 266V269M449.5 263V270M450.5 262V269M451.5 265V272M452.5 267V270M453.5 268V276M454.5 271V276M455.5 271V276M456.5 270V274M457.5 272V278M458.5 273V277M459.5 272V280M460.5 273V282M461.5 266V273M462.5 265V271M463.5 264V271M464.5 269V274M465.5 267V273M466.5 270V273M467.5 271V279M468.5 274V284M469.5 280V283M470.5 280V286M471.5 272V282M472.5 267V275M473.5 269V274M474.5 267V273M475.5 265V272M476.5 263V271M477.5 263V268M478.5 265V269M479.5 266V273M480.5 269V283M481.5 272V277M482.5 271V275M483.5 266V274M484.5 267V271M485.5 265V270M486.5 263V270M487.5 265V271M488.5 266V270M489.5 259V270M490.5 267V276M491.5 272V282M492.5 276V282M493.5 278V288M494.5 277V284M495.5 277V280M496.5 270V279M497.5 270V275M498.5 271V274M499.5 270V276M500.5 270V275M501.5 271V277M502.5 271V277M503.5 272V276M504.5 271V275M505.5 269V275M506.5 270V274M507.5 269V275M508.5 271V275M509.5 271V274M510.5 270V274M511.5 272V308M610.5 243V309M611.5 245V308" stroke="#ee0a0a" stroke-width="1" fill="none"/>
<path d="M69.5 52.5H908.5V310.5H69.5Z" stroke="#52c452" stroke-width="1" fill="none"/>
</svg>
<div class="lg" style="left:69px;color:#0000d8">-Max_A(V)</div>
<div class="lg" style="left:152px;color:#e00000">-Max_B(V)</div>
<div class="yl" style="top:46px">0.308671</div><div class="yl" style="top:71px">0.27952</div><div class="yl" style="top:97px">0.250369</div><div class="yl" style="top:123px">0.221217</div><div class="yl" style="top:149px">0.192066</div><div class="yl" style="top:175px">0.162915</div><div class="yl" style="top:200px">0.133764</div><div class="yl" style="top:226px">0.104612</div><div class="yl" style="top:252px">0.0754611</div><div class="yl" style="top:278px">0.0463098</div><div class="yl" style="top:304px">0.0171586</div>
<div class="xl" style="left:70px">05<i>:</i>44<i>:</i>12<i>:</i>050</div><div class="xl" style="left:153px">05<i>:</i>55<i>:</i>07<i>:</i>315</div><div class="xl" style="left:237px">06<i>:</i>06<i>:</i>02<i>:</i>580</div><div class="xl" style="left:321px">06<i>:</i>16<i>:</i>57<i>:</i>846</div><div class="xl" style="left:405px">06<i>:</i>27<i>:</i>53<i>:</i>111</div><div class="xl" style="left:489px">06<i>:</i>38<i>:</i>48<i>:</i>377</div><div class="xl" style="left:573px">06<i>:</i>49<i>:</i>43<i>:</i>643</div><div class="xl" style="left:657px">07<i>:</i>00<i>:</i>38<i>:</i>908</div><div class="xl" style="left:741px">07<i>:</i>11<i>:</i>34<i>:</i>173</div><div class="xl" style="left:825px">07<i>:</i>22<i>:</i>29<i>:</i>439</div><div class="xl" style="left:909px">07<i>:</i>33<i>:</i>24<i>:</i>704</div>
<div id="trial" style="position:absolute;left:474px;top:173px;height:16px;line-height:16px;font-family:'Liberation Sans',sans-serif;font-weight:bold;font-size:14px;color:#c814c8;white-space:pre">Trial</div>
<div id="mi" style="position:absolute;left:888px;top:52px;height:20px;line-height:20px;font-size:18px;font-weight:bold;color:#d418d4;white-space:pre;">M<span style="font-family:'Liberation Serif',serif;margin-left:1.5px;font-size:19px">i</span></div>
<div style="position:absolute;left:886px;top:55px;width:22px;height:7px;background:repeating-linear-gradient(to bottom,#fff 0,#fff 1px,rgba(255,255,255,0) 1px,rgba(255,255,255,0) 2px)"></div>
<div id="xt" style="position:absolute;left:468px;top:386px;width:40px;height:11px;overflow:hidden;background:#fff"><div style="position:absolute;left:1px;top:0px;height:13px;line-height:13px;font-family:'Liberation Mono','Noto Sans CJK SC',sans-serif;font-weight:900;font-size:11px;color:#000;white-space:pre;letter-spacing:-0.4px;-webkit-text-stroke:0.3px #000">时间(s)</div></div>
</body></html>
